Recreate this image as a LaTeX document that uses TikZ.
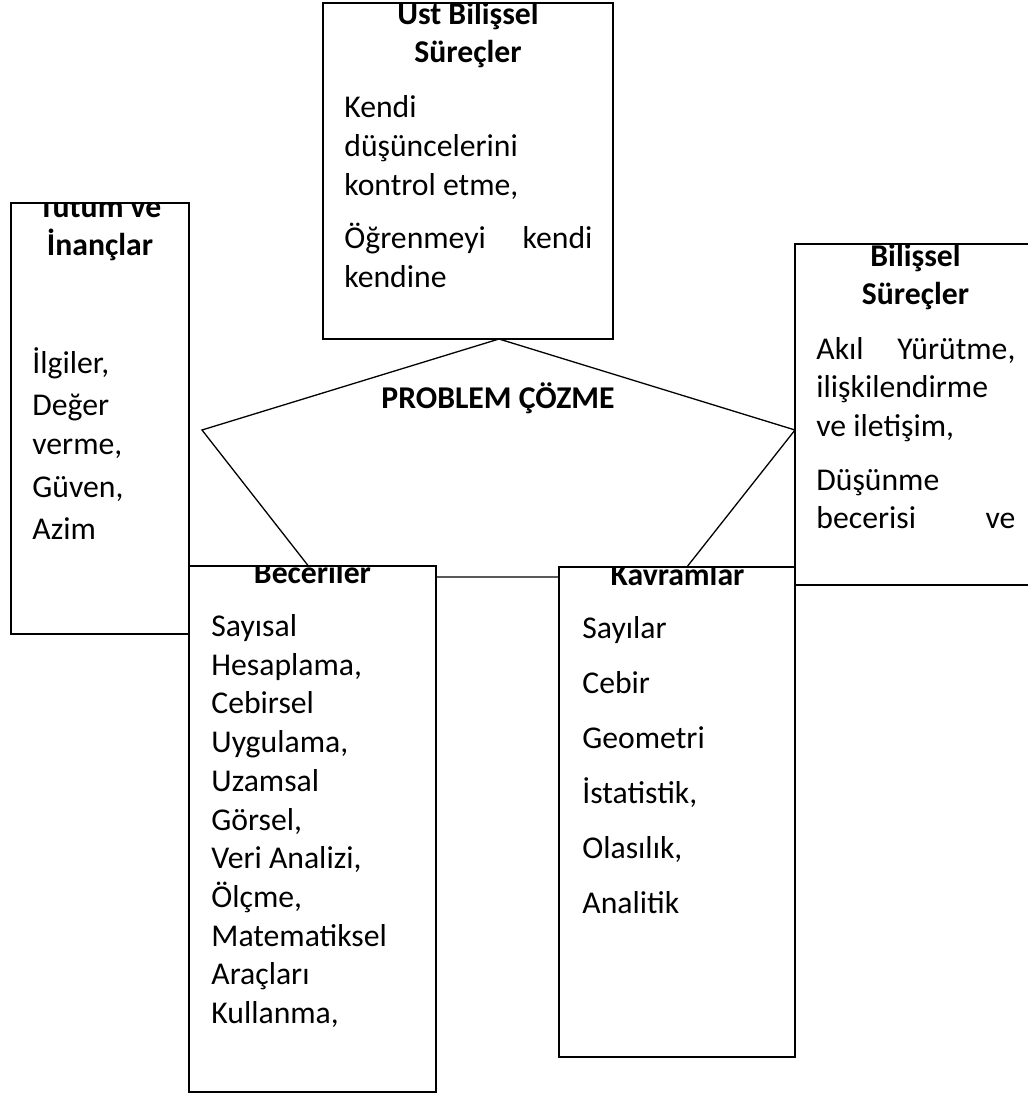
\documentclass[tikz,border=0pt]{standalone}
\usepackage{fontspec}
\setmainfont{Carlito}
\newcommand\yazi{\fontsize{15.85pt}{19.35pt}\selectfont}

\begin{document}
\begin{tikzpicture}[x=0.5pt,y=-0.5pt,
	kutu/.style 2 args={draw,fill=white,line width=1pt,anchor=north west,inner sep=0pt,outer sep=0pt,minimum width=#1,minimum height=#2},
	baslik/.style={font=\yazi\bfseries,align=center,inner sep=0pt,anchor=base},
	metin/.style={font=\yazi,align=flush left,inner sep=0pt,anchor=base west,text width=#1},
	cizgi/.style={line width=0.65pt}]
	\useasboundingbox (0,0) rectangle (1027,1096);
	\coordinate (tepe) at (499,339);
	\coordinate (sol) at (202,430);
	\coordinate (solalt) at (317,577);
	\coordinate (sagalt) at (679,577);
	\coordinate (sag) at (795,430);
	\draw[cizgi] (tepe) -- (sol) -- (solalt) -- (sagalt) -- (sag) -- cycle;
	\node[kutu={145pt}{168pt}](ust) at (323,3){};
	\node[kutu={89pt}{215.5pt}](tutum) at (11,203){};
	\node[kutu={120.5pt}{170.5pt}](bilissel) at (795,244){};
	\node[kutu={123.5pt}{263pt}](beceriler) at (189,566){};
	\node[kutu={118pt}{245pt}](kavramlar) at (559,567){};
	\node[baslik](problem) at (498,408){PROBLEM ÇÖZME};
	\begin{scope}
		\clip (ust.north west) rectangle (ust.south east)
			(tutum.north west) rectangle (tutum.south east)
			(bilissel.north west) rectangle (bilissel.south east)
			(beceriler.north west) rectangle (beceriler.south east)
			(kavramlar.north west) rectangle (kavramlar.south east);
		\node[baslik](ust-baslik) at (468,63){Üst Bilişsel\\Süreçler};
		\node[baslik](tutum-baslik) at (100,256){Tutum ve\\İnançlar};
		\node[baslik](bilissel-baslik) at (915.5,305){Bilişsel\\Süreçler};
		\node[baslik](beceriler-baslik) at (312.5,583.5){Beceriler};
		\node[baslik](kavramlar-baslik) at (677.5,585){Kavramlar};
	\end{scope}
	\node[metin=124pt](ust-metin) at (344,118){Kendi\\ düşüncelerini\\ kontrol etme,\\[7.25pt] Öğrenmeyi\hfill kendi\\ kendine};
	\node[metin=70pt](tutum-metin) at (32,373){İlgiler,\\[2pt] Değer\\ verme,\\[2pt] Güven,\\[2pt] Azim};
	\node[metin=99.5pt](bilissel-metin) at (816,359){Akıl\hfill Yürütme,\\ ilişkilendirme\\ ve iletişim,\\[7.5pt] Düşünme\\ becerisi\hfill ve};
	\node[metin=102pt](beceriler-metin) at (211,636.5){Sayısal\\ Hesaplama,\\ Cebirsel\\ Uygulama,\\ Uzamsal\\ Görsel,\\ Veri Analizi,\\ Ölçme,\\ Matematiksel\\ Araçları\\ Kullanma,};
	\node[metin=96pt](kavramlar-metin) at (582,638){Sayılar\\[8.15pt] Cebir\\[8.15pt] Geometri\\[8.15pt] İstatistik,\\[8.15pt] Olasılık,\\[8.15pt] Analitik};
\end{tikzpicture}
\end{document}
